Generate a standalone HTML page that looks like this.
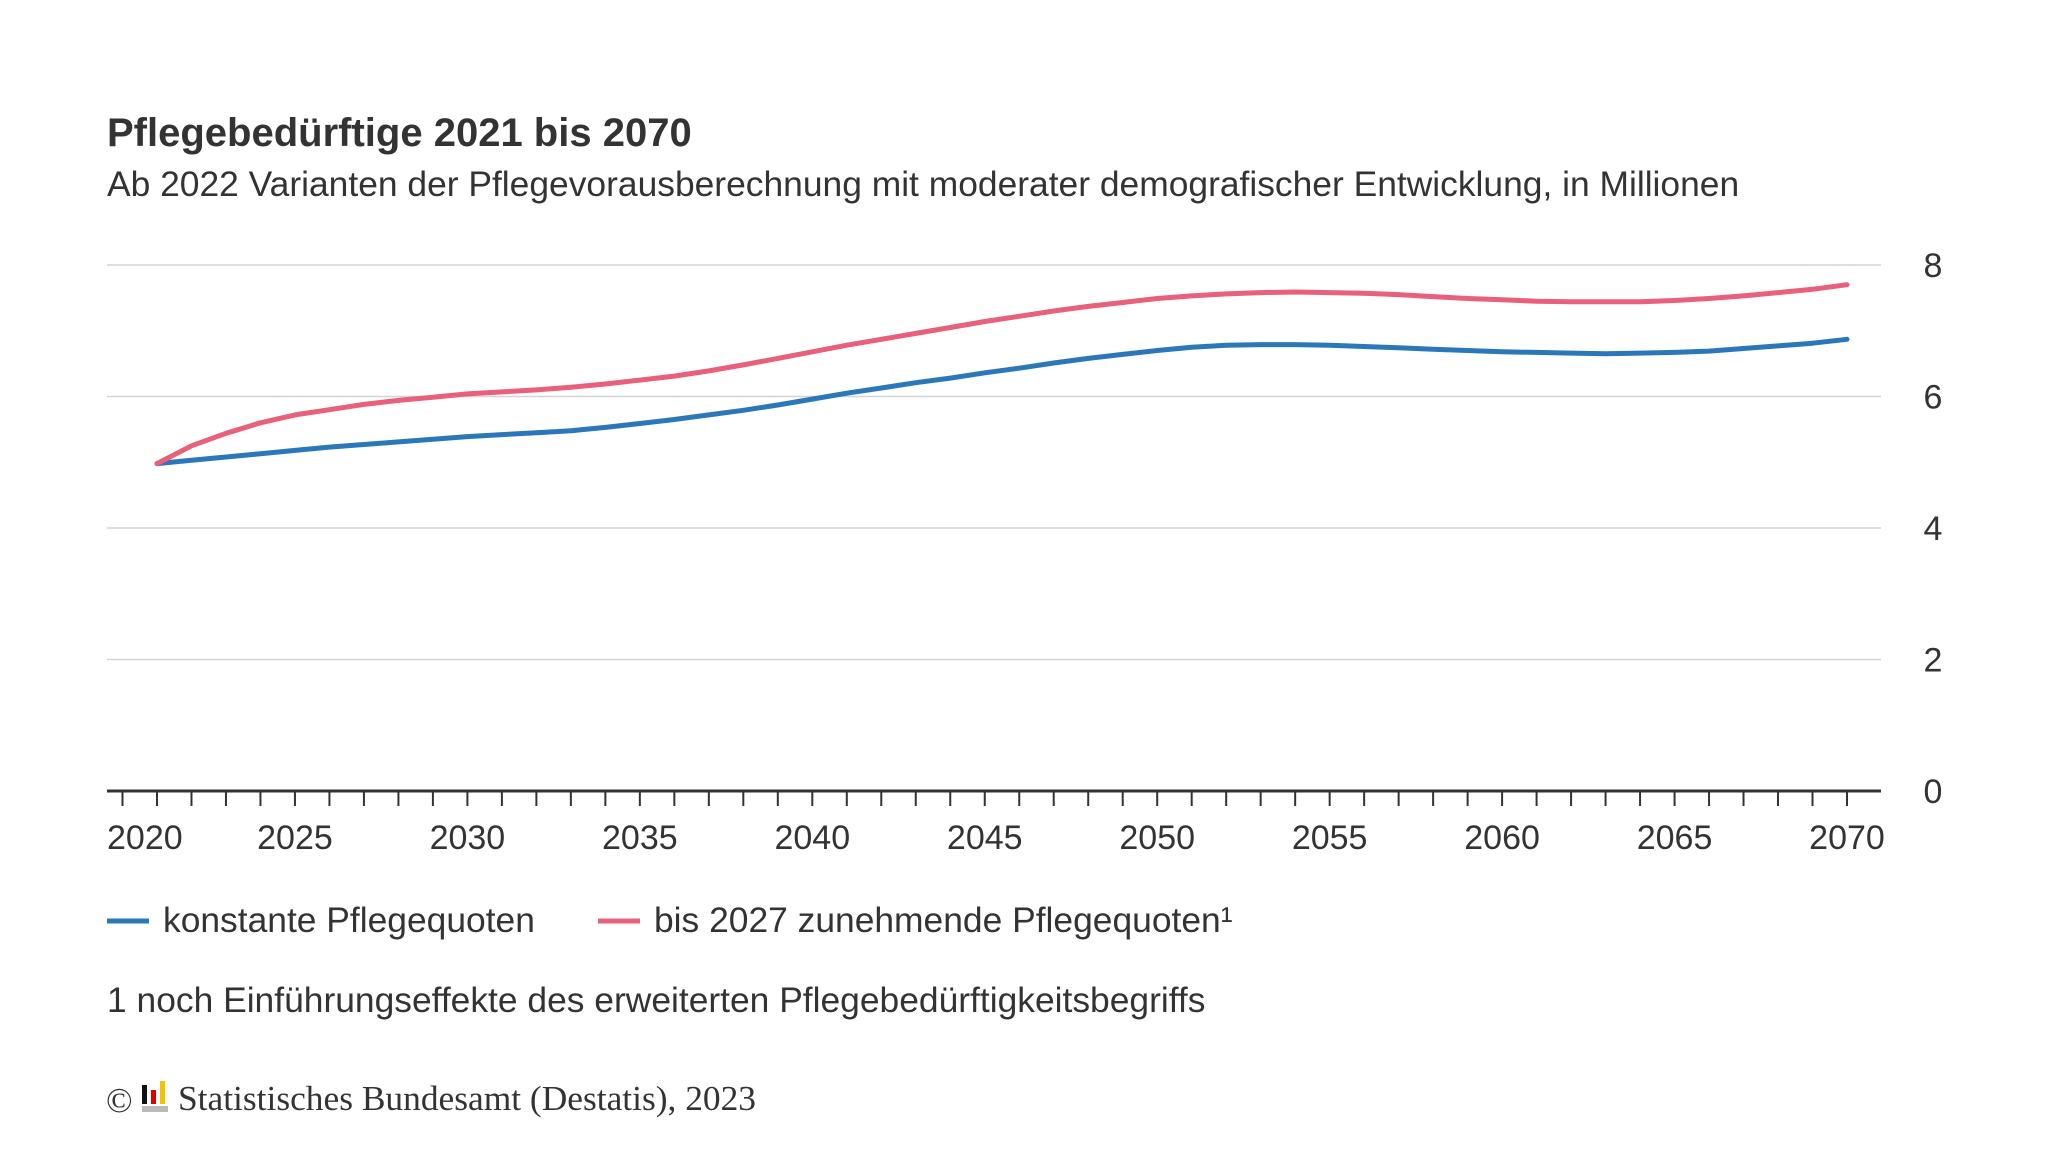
<!DOCTYPE html>
<html><head><meta charset="utf-8"><style>
body{margin:0;background:#fff;}
svg{display:block;font-family:"Liberation Sans",sans-serif;}
</style></head><body>
<svg id="chart" width="2048" height="1152" viewBox="0 0 2048 1152">
<text x="107" y="146" font-size="40" font-weight="bold" fill="#333">Pflegebedürftige 2021 bis 2070</text>
<text x="107" y="196" font-size="35.4" fill="#333">Ab 2022 Varianten der Pflegevorausberechnung mit moderater demografischer Entwicklung, in Millionen</text>
<g id="grid"></g><g id="xaxis"></g><g id="series"></g>
<g>
<line x1="107" y1="921" x2="149" y2="921" stroke="#2a77b9" stroke-width="5"/>
<text x="163" y="932" font-size="35.4" fill="#333">konstante Pflegequoten</text>
<line x1="598" y1="921" x2="640" y2="921" stroke="#e8607a" stroke-width="5"/>
<text x="654" y="932" font-size="35.4" fill="#333">bis 2027 zunehmende Pflegequoten¹</text>
</g>
<text x="107" y="1012" font-size="35.4" fill="#333">1 noch Einführungseffekte des erweiterten Pflegebedürftigkeitsbegriffs</text>
<g>
<text x="106" y="1112" font-family="Liberation Serif,serif" font-size="35" fill="#333">©</text>
<rect x="142" y="1085" width="5" height="19" fill="#111"/>
<rect x="151" y="1090" width="5" height="14" fill="#d00"/>
<rect x="160" y="1081" width="5" height="23" fill="#f5c400"/>
<rect x="142" y="1106" width="26" height="6" fill="#bbb"/>
<text x="178" y="1110" font-family="Liberation Serif,serif" font-size="35.4" fill="#333">Statistisches Bundesamt (Destatis), 2023</text>
</g>
</svg>
<script>
const years = [];
for (let y = 2021; y <= 2070; y++) years.push(y);
const constantRates = [4.98,5.03,5.08,5.13,5.18,5.23,5.27,5.31,5.35,5.39,5.42,5.45,5.48,5.53,5.59,5.65,5.72,5.79,5.87,5.96,6.05,6.13,6.21,6.28,6.36,6.43,6.51,6.58,6.64,6.70,6.75,6.78,6.79,6.79,6.78,6.76,6.74,6.72,6.70,6.68,6.67,6.66,6.65,6.66,6.67,6.69,6.73,6.77,6.81,6.87];
const increasingRates = [4.98,5.25,5.44,5.60,5.72,5.80,5.88,5.94,5.99,6.04,6.07,6.10,6.14,6.19,6.25,6.31,6.39,6.48,6.58,6.68,6.78,6.87,6.96,7.05,7.14,7.22,7.30,7.37,7.43,7.49,7.53,7.56,7.58,7.59,7.58,7.57,7.55,7.52,7.49,7.47,7.45,7.44,7.44,7.44,7.46,7.49,7.53,7.58,7.63,7.70];
const yTicks = [0,2,4,6,8];
const xLabels = [2020,2025,2030,2035,2040,2045,2050,2055,2060,2065,2070];

const NS = "http://www.w3.org/2000/svg";
const xs = yr => 122.5 + (yr - 2020) * 34.49;
const ys = v => 791 - v * 65.75;
function mk(tag, attrs, parent, txt) {
  const e = document.createElementNS(NS, tag);
  for (const k in attrs) e.setAttribute(k, attrs[k]);
  if (txt !== undefined) e.textContent = txt;
  document.getElementById(parent).appendChild(e);
  return e;
}
yTicks.forEach(v => {
  if (v > 0) {
    const l = mk('line', {x1:107, x2:1881, y1:ys(v), y2:ys(v), stroke:'#d4d4d4', 'stroke-width':1.5}, 'grid');
    
    
  }
  const t = mk('text', {x:1933, y:ys(v)+12, 'font-size':34, fill:'#333', 'text-anchor':'middle'}, 'grid', String(v));
  
  
});
const ax = mk('line', {x1:107, x2:1881, y1:791, y2:791, stroke:'#333', 'stroke-width':3}, 'xaxis');


for (let yr = 2020; yr <= 2070; yr++) {
  const tk = mk('line', {x1:xs(yr), x2:xs(yr), y1:791, y2:806, stroke:'#333', 'stroke-width':2}, 'xaxis');
  
  
}
xLabels.forEach((yr, i) => {
  const first = i === 0;
  const t = mk('text', {x: first ? 107 : xs(yr), y:849, 'font-size':34, fill:'#333', 'text-anchor': first ? 'start' : 'middle'}, 'xaxis', String(yr));
  
  
});
function drawLine(vals, color, name) {
  const d = vals.map((v, i) => (i ? 'L' : 'M') + xs(years[i]).toFixed(1) + ',' + ys(v).toFixed(1)).join(' ');
  const p = mk('path', {d:d, fill:'none', stroke:color, 'stroke-width':5, 'stroke-linejoin':'round', 'stroke-linecap':'round'}, 'series');
  
  
}
drawLine(constantRates, '#2a77b9', 'line-konstante-pflegequoten');
drawLine(increasingRates, '#e8607a', 'line-zunehmende-pflegequoten');
</script>
</body></html>
